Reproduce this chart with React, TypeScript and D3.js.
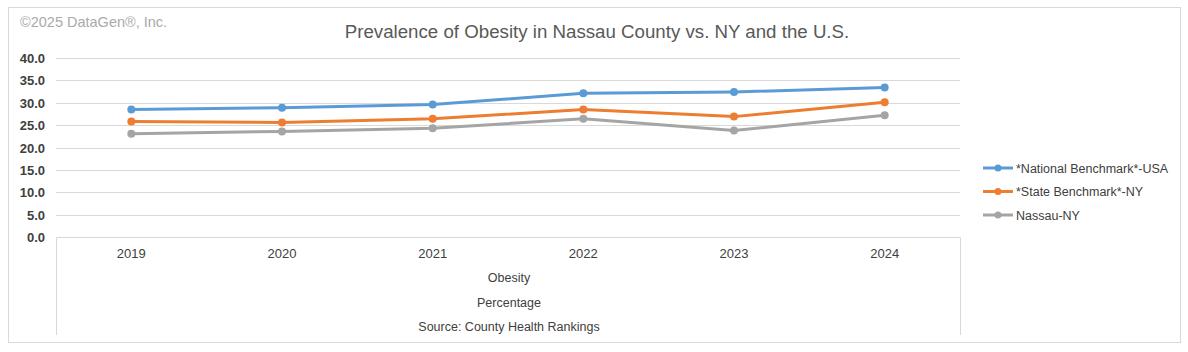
import React, { useRef, useEffect } from 'react';
import * as d3 from 'd3';

const years = ["2019", "2020", "2021", "2022", "2023", "2024"];
const nationalUSA = [28.5, 28.9, 29.6, 32.1, 32.4, 33.4];
const stateNY = [25.8, 25.6, 26.4, 28.5, 26.9, 30.1];
const nassauNY = [23.1, 23.6, 24.3, 26.4, 23.8, 27.2];
const yTicks = [0, 5, 10, 15, 20, 25, 30, 35, 40];
const seriesNames = ["*National Benchmark*-USA", "*State Benchmark*-NY", "Nassau-NY"];
const seriesColors = ["#5B9BD5", "#ED7D31", "#A5A5A5"];
const axisTitles = ["Obesity", "Percentage", "Source: County Health Rankings"];

export default function App() {
  const ref = useRef<SVGSVGElement>(null);
  const width = 1188;
  const height = 352;

  useEffect(() => {
    const svg = d3.select(ref.current);
    svg.selectAll("*").remove();

    const left = 56, right = 960, top = 58, bottom = 237;
    const sans = "'Liberation Sans', Arial, sans-serif";
    const narrow = "'Liberation Sans Narrow', 'Arial Narrow', 'Liberation Sans', sans-serif";

    // outer frame
    svg.append("rect")
      .attr("x", 8.5).attr("y", 7.5)
      .attr("width", 1172).attr("height", 335)
      .attr("fill", "#fff").attr("stroke", "#d9d9d9");

    svg.append("text")
      .attr("x", 20).attr("y", 27)
      .attr("font-family", sans)
      .attr("font-size", 14.5).attr("fill", "#aaaaaa")
      .text("©2025 DataGen®, Inc.");

    svg.append("text")
      .attr("x", 597).attr("y", 38)
      .attr("text-anchor", "middle")
      .attr("font-family", sans)
      .attr("font-size", 18.7).attr("fill", "#595959")
      .text("Prevalence of Obesity in Nassau County vs. NY and the U.S.");

    const x = d3.scaleBand().domain(years).range([left, right]);
    const y = d3.scaleLinear().domain([0, 40]).range([bottom, top]);

    // gridlines
    svg.append("g").selectAll("line")
      .data(yTicks.filter(t => t > 0))
      .enter().append("line")
      .attr("x1", left).attr("x2", right)
      .attr("y1", d => Math.round(y(d)) + 0.5).attr("y2", d => Math.round(y(d)) + 0.5)
      .attr("stroke", "#d9d9d9");

    // y labels
    svg.append("g").selectAll("text")
      .data(yTicks)
      .enter().append("text")
      .attr("x", 45).attr("y", d => y(d) + 5)
      .attr("text-anchor", "end")
      .attr("font-family", sans)
      .attr("font-weight", "bold")
      .attr("font-size", 13).attr("fill", "#404040")
      .text(d => d.toFixed(1));

    // category table box
    const boxBottom = 335;
    svg.append("path")
      .attr("d", `M${left + 0.5},${boxBottom}V${Math.round(bottom) + 0.5}H${right + 0.5}V${boxBottom}`)
      .attr("fill", "none").attr("stroke", "#d9d9d9");

    svg.append("g").selectAll("text")
      .data(years)
      .enter().append("text")
      .attr("x", d => (x(d) as number) + x.bandwidth() / 2)
      .attr("y", 258)
      .attr("text-anchor", "middle")
      .attr("font-family", narrow)
      .attr("font-size", 13).attr("fill", "#404040")
      .text(d => d);

    svg.append("g").selectAll("text")
      .data(axisTitles)
      .enter().append("text")
      .attr("x", (left + right) / 2 + 1)
      .attr("y", (_, i) => 282 + i * 24.5)
      .attr("text-anchor", "middle")
      .attr("font-family", narrow)
      .attr("font-size", 12.5).attr("fill", "#404040")
      .text(d => d);

    const allSeries = [nationalUSA, stateNY, nassauNY];
    const line = d3.line<number>()
      .x((_, i) => (x(years[i]) as number) + x.bandwidth() / 2)
      .y(d => y(d));

    allSeries.forEach((vals, si) => {
      const g = svg.append("g");
      g.append("path")
        .datum(vals)
        .attr("d", line)
        .attr("fill", "none")
        .attr("stroke", seriesColors[si])
        .attr("stroke-width", 3)
        .attr("stroke-linejoin", "round");
      g.selectAll("circle")
        .data(vals)
        .enter().append("circle")
        .attr("cx", (_, i) => (x(years[i]) as number) + x.bandwidth() / 2)
        .attr("cy", d => y(d))
        .attr("r", 4)
        .attr("fill", seriesColors[si]);
    });

    // legend
    const legend = svg.append("g");
    seriesNames.forEach((name, i) => {
      const ly = 168 + i * 23.5;
      legend.append("line")
        .attr("x1", 983).attr("x2", 1013)
        .attr("y1", ly).attr("y2", ly)
        .attr("stroke", seriesColors[i]).attr("stroke-width", 3);
      legend.append("circle")
        .attr("cx", 998).attr("cy", ly).attr("r", 3.5)
        .attr("fill", seriesColors[i]);
      legend.append("text")
        .attr("x", 1016).attr("y", ly + 4.5)
        .attr("font-family", sans)
        .attr("font-size", 12.5).attr("fill", "#404040")
        .text(name);
    });
  }, []);

  return (
    <div style={{ position: "absolute", left: 0, top: 0 }}>
      <svg ref={ref} width={width} height={height}></svg>
    </div>
  );
}
